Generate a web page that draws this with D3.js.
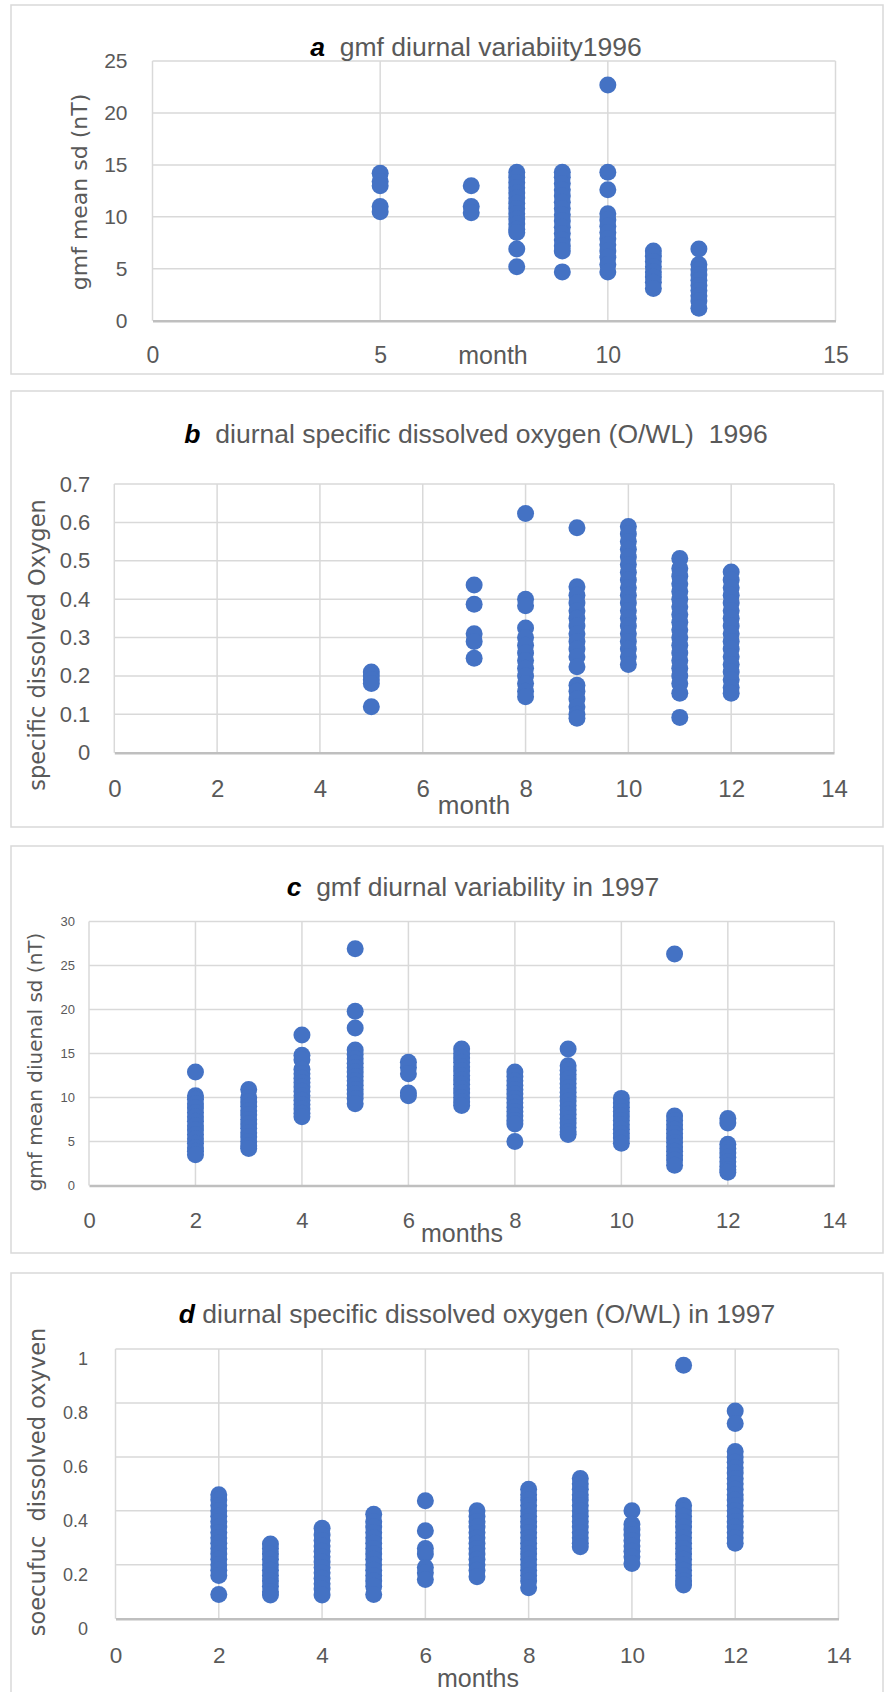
<!DOCTYPE html>
<html>
<head>
<meta charset="utf-8">
<script src="https://cdn.jsdelivr.net/npm/d3@7"></script>
<style>
  body { margin: 0; background: #fff; }
  svg { display: block; }
  text { font-family: "Liberation Sans", Arial, sans-serif; fill: #595959; }
  .ytitle { font-family: "DejaVu Sans", sans-serif; }
</style>
</head>
<body>
<div id="chart"></div>
<script>
// ---- data ----
// a: gmf diurnal variability 1996
const aMonths = [5, 7, 8, 9, 10, 11, 12]
const aValues = [
  [14.2, 13.4, 13.0, 11.0, 10.5],
  [13.0, 11.0, 10.4],
  [14.3, 13.8, 13.3, 12.8, 12.3, 11.8, 11.3, 10.8, 10.3, 9.8, 9.3, 8.8, 8.5, 6.9, 5.2],
  [14.3, 13.8, 13.2, 12.6, 12.0, 11.4, 10.8, 10.2, 9.6, 9.0, 8.4, 7.8, 7.2, 6.7, 4.7],
  [22.7, 14.3, 12.6, 10.3, 9.7, 9.1, 8.5, 7.9, 7.3, 6.7, 6.1, 5.4, 4.7],
  [6.7, 6.2, 5.7, 5.2, 4.7, 4.2, 3.7, 3.1],
  [6.9, 5.4, 4.9, 4.4, 3.9, 3.4, 2.9, 2.4, 1.9, 1.2]
]
const aXTicks = [0, 5, 10, 15]
const aYTicks = [0, 5, 10, 15, 20, 25]

// b: specific dissolved oxygen 1996
const bMonths = [5, 7, 8, 9, 10, 11, 12]
const bValues = [
  [0.21, 0.20, 0.19, 0.18, 0.12],
  [0.437, 0.387, 0.31, 0.29, 0.246],
  [0.623, 0.40, 0.383, 0.325, 0.30, 0.28, 0.26, 0.24, 0.22, 0.20, 0.18, 0.16, 0.146],
  [0.586, 0.432, 0.41, 0.39, 0.37, 0.35, 0.33, 0.31, 0.29, 0.27, 0.25, 0.224, 0.176, 0.16, 0.14, 0.12, 0.10, 0.09],
  [0.589, 0.57, 0.55, 0.53, 0.51, 0.49, 0.47, 0.45, 0.43, 0.41, 0.39, 0.37, 0.35, 0.33, 0.31, 0.29, 0.27, 0.25, 0.23],
  [0.506, 0.48, 0.46, 0.44, 0.42, 0.40, 0.38, 0.36, 0.34, 0.32, 0.30, 0.28, 0.26, 0.24, 0.22, 0.20, 0.18, 0.155, 0.092],
  [0.471, 0.45, 0.43, 0.41, 0.39, 0.37, 0.35, 0.33, 0.31, 0.29, 0.27, 0.25, 0.23, 0.21, 0.19, 0.17, 0.155]
]
const bXTicks = [0, 2, 4, 6, 8, 10, 12, 14]
const bYTicks = [0, 0.1, 0.2, 0.3, 0.4, 0.5, 0.6, 0.7]

// c: gmf diurnal variability 1997
const cMonths = [2, 3, 4, 5, 6, 7, 8, 9, 10, 11, 12]
const cValues = [
  [12.9, 10.2, 9.8, 9.3, 8.8, 8.3, 7.8, 7.3, 6.8, 6.3, 5.8, 5.3, 4.8, 4.3, 3.9, 3.5],
  [10.9, 10.0, 9.5, 9.0, 8.5, 8.0, 7.5, 7.0, 6.5, 6.0, 5.5, 5.0, 4.5, 4.2],
  [17.1, 14.8, 14.3, 13.2, 12.7, 12.2, 11.7, 11.2, 10.7, 10.2, 9.7, 9.2, 8.7, 8.2, 7.8],
  [26.9, 19.8, 17.9, 15.4, 14.9, 14.4, 13.9, 13.4, 12.9, 12.4, 11.9, 11.4, 10.9, 10.4, 9.9, 9.3],
  [14.0, 13.4, 12.7, 10.5, 10.2],
  [15.5, 15.0, 14.5, 14.0, 13.5, 13.0, 12.5, 12.0, 11.5, 11.0, 10.5, 10.0, 9.5, 9.1],
  [12.9, 12.4, 11.9, 11.4, 10.9, 10.4, 9.9, 9.4, 8.9, 8.4, 7.9, 7.4, 7.0, 5.0],
  [15.5, 13.6, 13.1, 12.6, 12.1, 11.6, 11.1, 10.6, 10.1, 9.6, 9.1, 8.6, 8.1, 7.6, 7.1, 6.6, 6.1, 5.8],
  [9.9, 9.4, 8.9, 8.4, 7.9, 7.4, 6.9, 6.4, 5.9, 5.4, 4.8],
  [26.3, 7.9, 7.4, 6.9, 6.4, 5.9, 5.4, 4.9, 4.4, 3.9, 3.4, 2.9, 2.3],
  [7.6, 7.1, 4.7, 4.2, 3.7, 3.2, 2.7, 2.2, 1.8, 1.5]
]
const cXTicks = [0, 2, 4, 6, 8, 10, 12, 14]
const cYTicks = [0, 5, 10, 15, 20, 25, 30]

// d: specific dissolved oxygen 1997
const dMonths = [2, 3, 4, 5, 6, 7, 8, 9, 10, 11, 12]
const dValues = [
  [0.46, 0.44, 0.42, 0.40, 0.38, 0.36, 0.34, 0.32, 0.30, 0.28, 0.26, 0.24, 0.22, 0.20, 0.18, 0.16, 0.09],
  [0.277, 0.26, 0.24, 0.22, 0.20, 0.18, 0.16, 0.14, 0.12, 0.10, 0.088],
  [0.335, 0.31, 0.29, 0.27, 0.25, 0.23, 0.21, 0.19, 0.17, 0.15, 0.13, 0.11, 0.088],
  [0.387, 0.36, 0.34, 0.32, 0.30, 0.28, 0.26, 0.24, 0.22, 0.20, 0.18, 0.16, 0.14, 0.12, 0.09],
  [0.437, 0.326, 0.26, 0.24, 0.19, 0.17, 0.145],
  [0.40, 0.38, 0.36, 0.34, 0.32, 0.30, 0.28, 0.26, 0.24, 0.22, 0.20, 0.18, 0.156],
  [0.48, 0.46, 0.44, 0.42, 0.40, 0.38, 0.36, 0.34, 0.32, 0.30, 0.28, 0.26, 0.24, 0.22, 0.20, 0.18, 0.16, 0.14, 0.115],
  [0.52, 0.50, 0.48, 0.46, 0.44, 0.42, 0.40, 0.38, 0.36, 0.34, 0.32, 0.30, 0.28, 0.267],
  [0.40, 0.35, 0.33, 0.31, 0.29, 0.27, 0.25, 0.23, 0.205],
  [0.94, 0.42, 0.40, 0.38, 0.36, 0.34, 0.32, 0.30, 0.28, 0.26, 0.24, 0.22, 0.20, 0.18, 0.16, 0.14, 0.125],
  [0.77, 0.724, 0.62, 0.60, 0.58, 0.56, 0.54, 0.52, 0.50, 0.48, 0.46, 0.44, 0.42, 0.40, 0.38, 0.36, 0.34, 0.32, 0.30, 0.28]
]
const dXTicks = [0, 2, 4, 6, 8, 10, 12, 14]
const dYTicks = [0, 0.2, 0.4, 0.6, 0.8, 1]

// ---- layout ----
const W = 884, H = 1692
const dotColor = '#4472C4'
const gridColor = '#d9d9d9'

const panels = [
  { letter: 'a', title: '  gmf diurnal variabiity1996', months: aMonths, values: aValues,
    xTicks: aXTicks, yTicks: aYTicks,
    frame: [11, 5, 872, 369], plot: { l: 152.5, r: 835.5, t: 61, b: 320.7 },
    titleX: 476, titleY: 56, titleSize: 26.5,
    xSize: 23, xPad: 26, ySize: 21, yPad: 25, yShift: 0,
    xTitle: 'month', xTitleX: 493, xTitleY: 364, xTitleSize: 25,
    yTitle: 'gmf mean sd (nT)', yTitleX: 79, yTitleY: 192, yTitleSize: 22 },
  { letter: 'b', title: '  diurnal specific dissolved oxygen (O/WL)  1996', months: bMonths, values: bValues,
    xTicks: bXTicks, yTicks: bYTicks,
    frame: [11, 391, 872, 436], plot: { l: 114.3, r: 834, t: 484, b: 752.7 },
    titleX: 476, titleY: 443, titleSize: 26.5,
    xSize: 24, xPad: 27, ySize: 22, yPad: 24, yShift: 0,
    xTitle: 'month', xTitleX: 474, xTitleY: 814, xTitleSize: 26,
    yTitle: 'specific dissolved Oxygen', yTitleX: 37, yTitleY: 645, yTitleSize: 22.5 },
  { letter: 'c', title: '  gmf diurnal variability in 1997', months: cMonths, values: cValues,
    xTicks: cXTicks, yTicks: cYTicks,
    frame: [11, 846, 872, 407], plot: { l: 89, r: 834.3, t: 921.5, b: 1185.5 },
    titleX: 473, titleY: 896, titleSize: 26.5,
    xSize: 22, xPad: 27, ySize: 13, yPad: 14, yShift: 0,
    xTitle: 'months', xTitleX: 462, xTitleY: 1242, xTitleSize: 25,
    yTitle: 'gmf mean diuenal sd (nT)', yTitleX: 35, yTitleY: 1062, yTitleSize: 20 },
  { letter: 'd', title: ' diurnal specific dissolved oxygen (O/WL) in 1997', months: dMonths, values: dValues,
    xTicks: dXTicks, yTicks: dYTicks,
    frame: [11, 1273, 872, 440], plot: { l: 115.5, r: 838.5, t: 1349, b: 1618.7 },
    titleX: 477, titleY: 1323, titleSize: 26.5,
    xSize: 22.5, xPad: 28, ySize: 18, yPad: 27.5, yShift: 10,
    xTitle: 'months', xTitleX: 478, xTitleY: 1687, xTitleSize: 25,
    yTitle: 'soecufuc  dissolved oxyven', yTitleX: 37, yTitleY: 1482, yTitleSize: 22.5 }
]

const svg = d3.select('#chart').append('svg')
  .attr('width', W)
  .attr('height', H)

panels.forEach(p => drawPanel(p))

function drawPanel(p) {
  const g = svg.append('g')
  const pl = p.plot

  // outer chart frame
  g.append('rect')
    .attr('x', p.frame[0]).attr('y', p.frame[1])
    .attr('width', p.frame[2]).attr('height', p.frame[3])
    .attr('fill', '#fff')
    .attr('stroke', gridColor)
    .attr('stroke-width', 1.5)

  const x = d3.scaleLinear()
    .domain([p.xTicks[0], p.xTicks[p.xTicks.length - 1]])
    .range([pl.l, pl.r])
  const y = d3.scaleLinear()
    .domain([p.yTicks[0], p.yTicks[p.yTicks.length - 1]])
    .range([pl.b, pl.t])

  // gridlines
  g.append('g')
    .selectAll('line')
    .data(p.yTicks.slice(1))
    .enter()
    .append('line')
    .attr('x1', pl.l).attr('x2', pl.r)
    .attr('y1', d => y(d)).attr('y2', d => y(d))
    .attr('stroke', gridColor)
    .attr('stroke-width', 1.5)
  g.append('g')
    .selectAll('line')
    .data(p.xTicks)
    .enter()
    .append('line')
    .attr('x1', d => x(d)).attr('x2', d => x(d))
    .attr('y1', pl.t).attr('y2', pl.b)
    .attr('stroke', gridColor)
    .attr('stroke-width', 1.5)

  // x axis (labels + line)
  const xAxis = g.append('g')
    .attr('transform', 'translate(0,' + pl.b + ')')
    .call(d3.axisBottom(x).tickValues(p.xTicks).tickSize(0).tickPadding(p.xPad).tickFormat(d3.format('d')))
  xAxis.select('.domain').attr('stroke', '#bfbfbf').attr('stroke-width', 2.5)
  xAxis.selectAll('text')
    .style('font-size', p.xSize + 'px')
    .attr('fill', '#595959')

  // y axis labels
  const yAxis = g.append('g')
    .attr('transform', 'translate(' + pl.l + ',0)')
    .call(d3.axisLeft(y).tickValues(p.yTicks).tickSize(0).tickPadding(p.yPad).tickFormat(d => String(+d.toFixed(2))))
  yAxis.select('.domain').remove()
  yAxis.selectAll('text')
    .style('font-size', p.ySize + 'px')
    .attr('fill', '#595959')
    .attr('dy', (0.32 * p.ySize + p.yShift) + 'px')

  // points
  const pts = []
  p.months.forEach((m, i) => p.values[i].forEach(v => pts.push({ m: m, v: v })))
  g.append('g')
    .selectAll('circle')
    .data(pts)
    .enter()
    .append('circle')
    .attr('cx', d => x(d.m))
    .attr('cy', d => y(d.v))
    .attr('r', 8.5)
    .attr('fill', dotColor)

  // chart title
  const t = g.append('text')
    .attr('x', p.titleX).attr('y', p.titleY)
    .attr('text-anchor', 'middle')
    .style('font-size', p.titleSize + 'px')
    .style('white-space', 'pre')
  t.append('tspan')
    .text(p.letter)
    .style('font-weight', 'bold')
    .style('font-style', 'italic')
    .style('fill', '#000')
  t.append('tspan').text(p.title)

  // axis titles
  g.append('text')
    .attr('x', p.xTitleX).attr('y', p.xTitleY)
    .attr('text-anchor', 'middle')
    .style('font-size', p.xTitleSize + 'px')
    .text(p.xTitle)
  g.append('text')
    .attr('class', 'ytitle')
    .attr('transform', 'translate(' + p.yTitleX + ',' + p.yTitleY + ') rotate(-90)')
    .attr('text-anchor', 'middle')
    .attr('dominant-baseline', 'central')
    .style('font-size', p.yTitleSize + 'px')
    .style('white-space', 'pre')
    .text(p.yTitle)
}
</script>
</body>
</html>
